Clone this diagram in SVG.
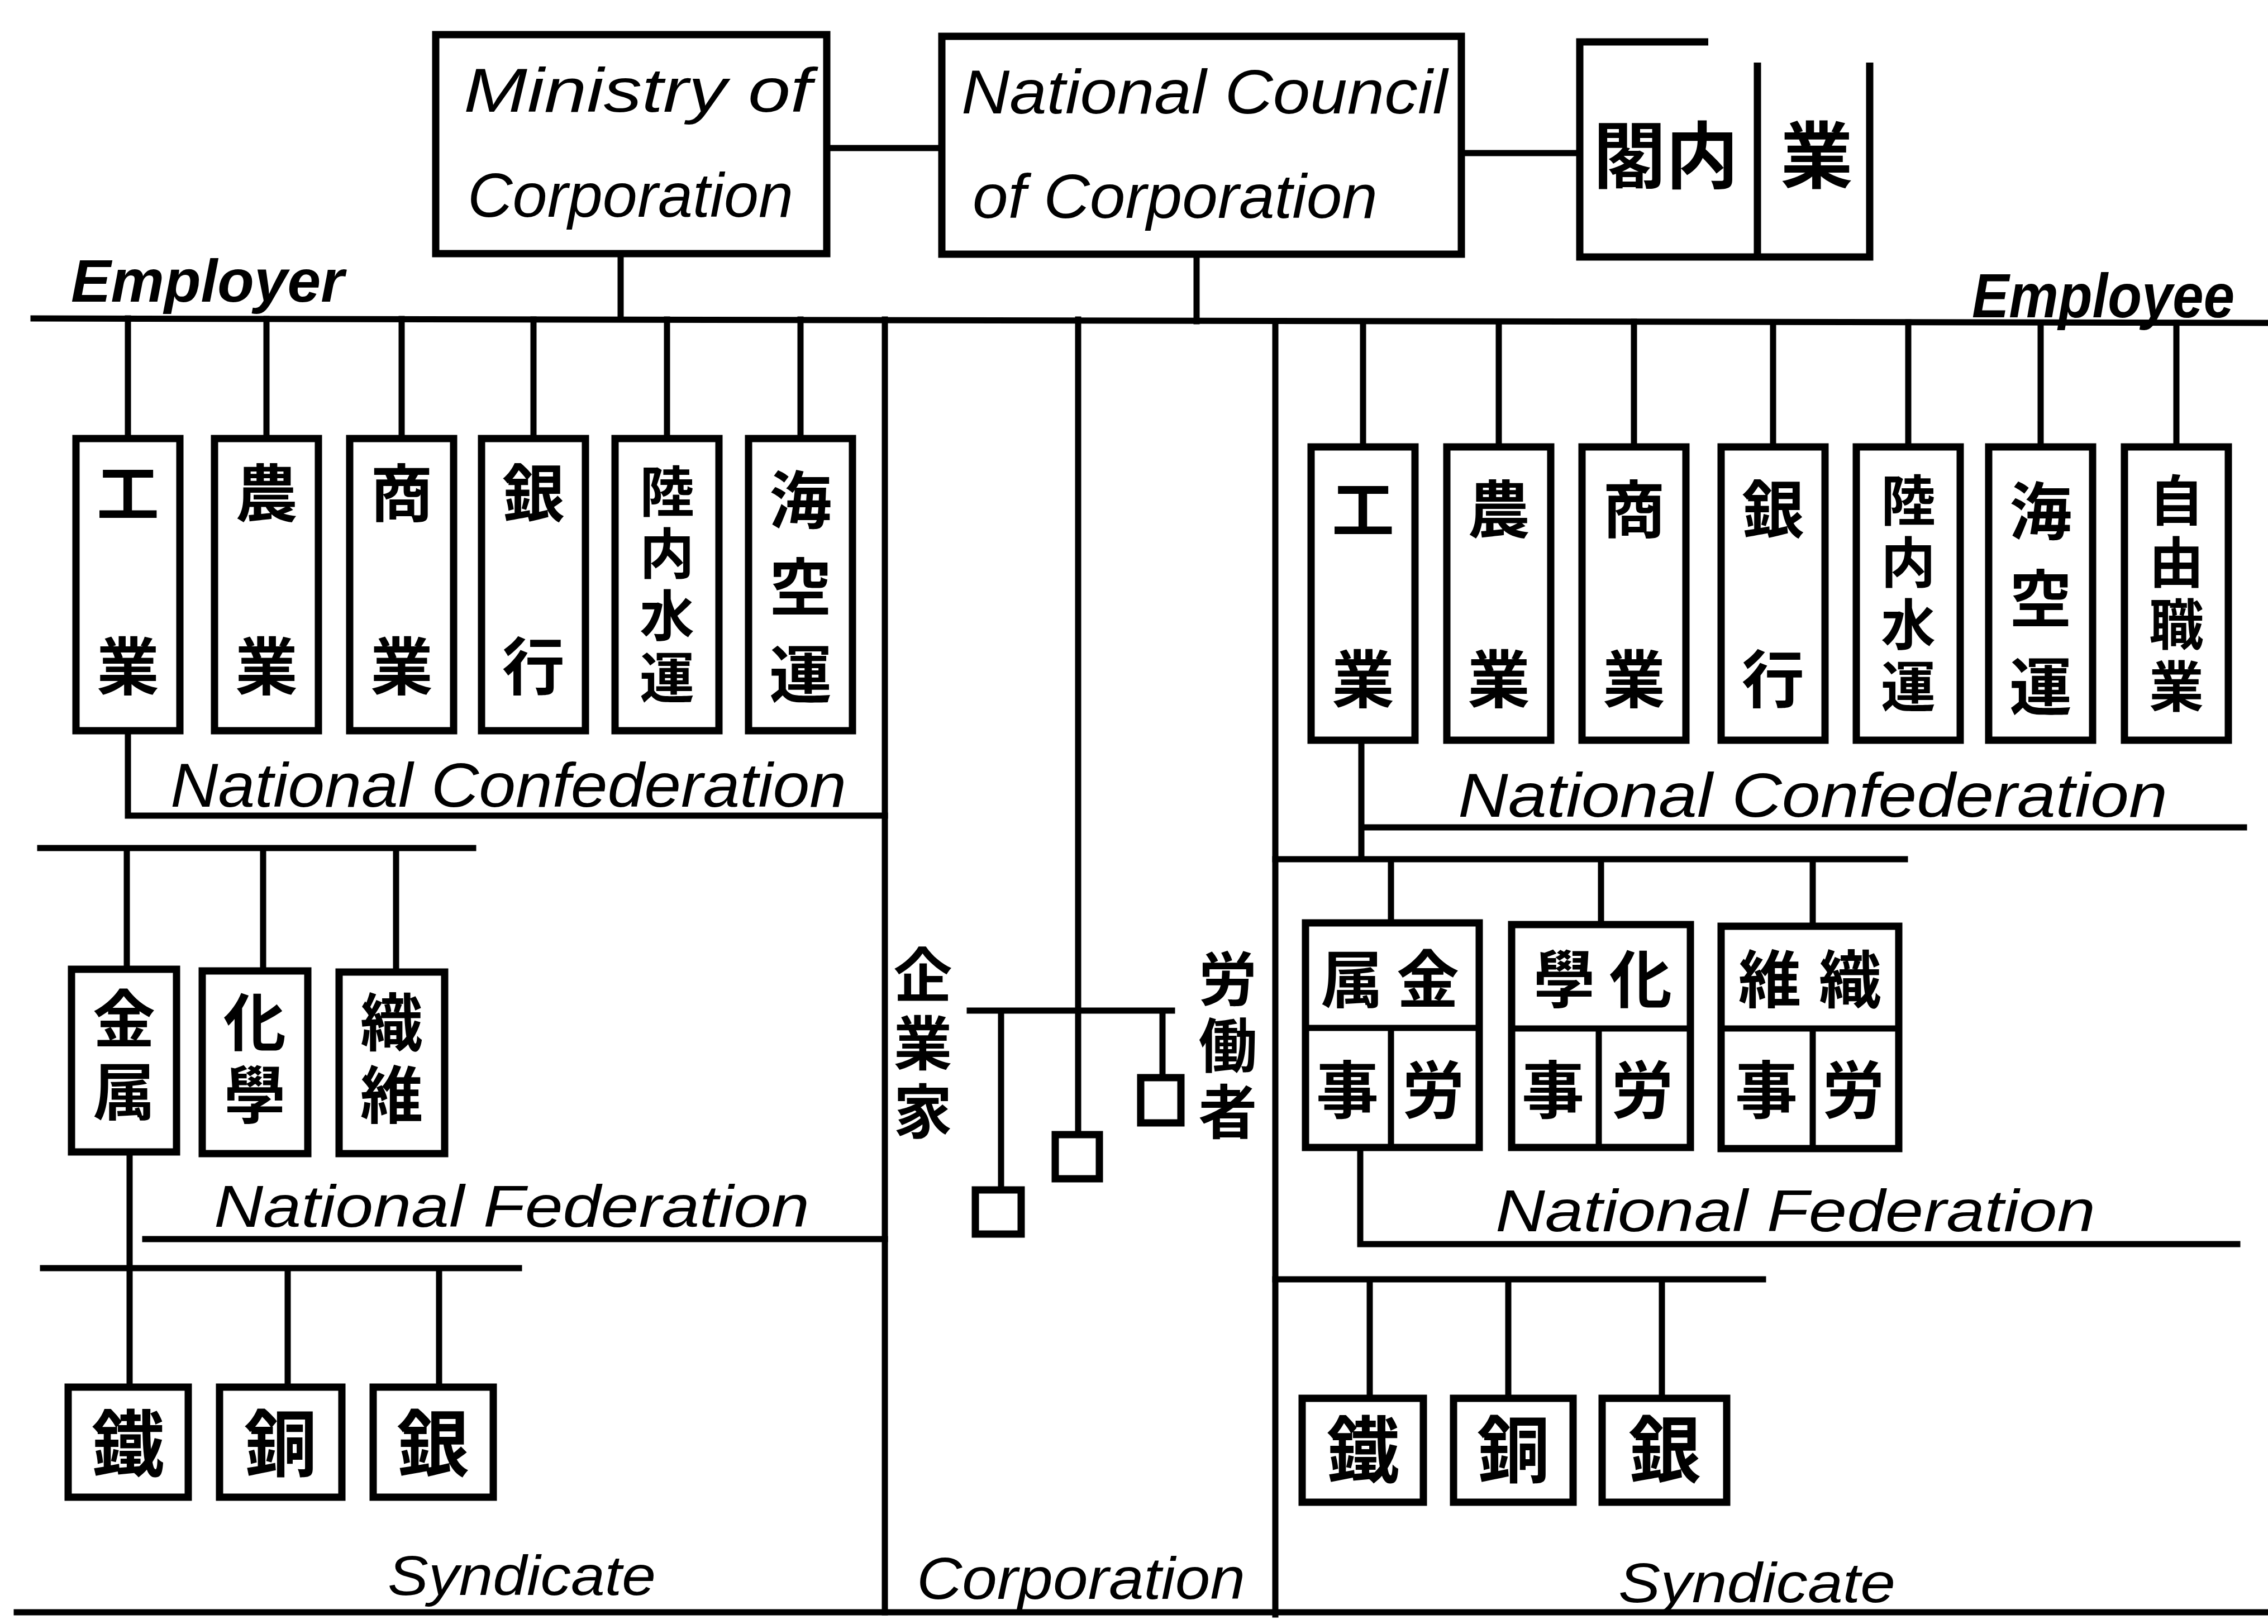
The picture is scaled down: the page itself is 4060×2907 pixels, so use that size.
<svg xmlns="http://www.w3.org/2000/svg" width="4060" height="2907" viewBox="0 0 4060 2907">
<style>
.bx{fill:none;stroke:#000;stroke-width:13}
.ln{fill:none;stroke:#000;stroke-width:11;stroke-linecap:square}
.en{font-family:"Liberation Sans",Arial,sans-serif;font-style:italic;fill:#000}
.cj{font-family:"Noto Sans CJK JP","Noto Sans CJK SC",sans-serif;font-weight:700;fill:#000;text-anchor:middle}
.vt{font-family:"Noto Sans CJK JP","Noto Sans CJK SC",sans-serif;font-weight:700;fill:#000;writing-mode:vertical-rl;text-anchor:start}
.c115{font-size:112px}
.c105{font-size:105px}
.c100{font-size:98px}
.c130{font-size:130px}
.s2L{letter-spacing:198px}
.s2R{letter-spacing:192px}
.s3L{letter-spacing:44px}
.s3R{letter-spacing:45px}
.s4{letter-spacing:13px}
.sF{letter-spacing:18px}
</style>
<rect width="4060" height="2907" fill="#fff"/>

<g id="connectors">
<path class="ln" d="M1480,265 H1686 M2616,274 H2828"/>
<path class="ln" d="M60,570 L4060,578"/>
<path class="ln" d="M1111,454 V570 M2142,455 V575"/>
<path class="ln" d="M229,570 V785 M477,571 V785 M719,571 V785 M955,572 V785 M1194,572 V785 M1433,572 V785"/>
<path class="ln" d="M2440,576 V800 M2683,576 V800 M2925,576 V800 M3174,577 V800 M3416,577 V800 M3653,578 V800 M3896,578 V800"/>
<path class="ln" d="M1584,572 V2886 M2283,576 V2890"/>
<path class="ln" d="M229,1308 V1460 H1584"/>
<path class="ln" d="M72,1518 H847 M227,1518 V1735 M471,1518 V1738 M709,1518 V1740"/>
<path class="ln" d="M232,2062 V2483"/>
<path class="ln" d="M260,2218 H1584"/>
<path class="ln" d="M77,2270 H929 M515,2270 V2483 M786,2270 V2483"/>
<path class="ln" d="M30,2886 H4060"/>
<path class="ln" d="M1930,572 V2031 M1736,1809 H2098 M1792,1809 V2130 M2081,1809 V1929"/>
<path class="ln" d="M2437,1325 V1537 M2437,1481 H4017"/>
<path class="ln" d="M2283,1538 H3410 M2490,1538 V1652 M2866,1538 V1652 M3245,1538 V1652"/>
<path class="ln" d="M2435,2054 V2227 H4005"/>
<path class="ln" d="M2283,2290 H3156 M2452,2290 V2503 M2700,2290 V2503 M2975,2290 V2503"/>
</g>

<g id="labels">
<text class="en" x="127" y="540" font-size="108" font-weight="700" textLength="489" lengthAdjust="spacingAndGlyphs">Employer</text>
<text class="en" x="3530" y="568" font-size="112" font-weight="700" textLength="470" lengthAdjust="spacingAndGlyphs">Employee</text>
<text class="en" x="305" y="1444" font-size="112" textLength="1210" lengthAdjust="spacingAndGlyphs">National Confederation</text>
<text class="en" x="2610" y="1462" font-size="112" textLength="1270" lengthAdjust="spacingAndGlyphs">National  Confederation</text>
<text class="en" x="383" y="2196" font-size="105" textLength="1066" lengthAdjust="spacingAndGlyphs">National Federation</text>
<text class="en" x="2677" y="2204" font-size="105" textLength="1074" lengthAdjust="spacingAndGlyphs">National  Federation</text>
<text class="en" x="694" y="2855" font-size="100" textLength="480" lengthAdjust="spacingAndGlyphs">Syndicate</text>
<text class="en" x="2897" y="2868" font-size="100" textLength="496" lengthAdjust="spacingAndGlyphs">Syndicate</text>
<text class="en" x="1641" y="2862" font-size="105" textLength="588" lengthAdjust="spacingAndGlyphs">Corporation</text>
</g>

<g id="ministry">
<rect class="bx" x="780" y="62" width="700" height="392"/>
<text class="en" x="830" y="200" font-size="112" textLength="623" lengthAdjust="spacingAndGlyphs">Ministry  of</text>
<text class="en" x="837" y="388" font-size="112" textLength="583" lengthAdjust="spacingAndGlyphs">Corporation</text>
</g>
<g id="council">
<rect class="bx" x="1686" y="65" width="930" height="390"/>
<text class="en" x="1721" y="203" font-size="112" textLength="870" lengthAdjust="spacingAndGlyphs">National  Council</text>
<text class="en" x="1741" y="390" font-size="112" textLength="725" lengthAdjust="spacingAndGlyphs">of Corporation</text>
</g>
<g id="cabinet">
<path class="bx" d="M3058,75 H2828 V460 H3347 V112 M3146,112 V460"/>
<text class="cj c130" x="2982" y="326">閣内</text>
<text class="cj c130" x="3252" y="326">業</text>
</g>

<g id="emp-industry"><rect class="bx" x="136" y="785" width="186" height="523"/><text class="vt c115 s2L" x="229" y="826">工業</text></g>
<g id="emp-agriculture"><rect class="bx" x="384" y="785" width="186" height="523"/><text class="vt c115 s2L" x="477" y="826">農業</text></g>
<g id="emp-commerce"><rect class="bx" x="626" y="785" width="186" height="523"/><text class="vt c115 s2L" x="719" y="826">商業</text></g>
<g id="emp-banking"><rect class="bx" x="862" y="785" width="186" height="523"/><text class="vt c115 s2L" x="955" y="826">銀行</text></g>
<g id="emp-inland"><rect class="bx" x="1101" y="785" width="186" height="523"/><text class="vt c100 s4" x="1194" y="830">陸内水運</text></g>
<g id="emp-seaair"><rect class="bx" x="1340" y="785" width="186" height="523"/><text class="vt c115 s3L" x="1433" y="838">海空運</text></g>

<g id="wrk-industry"><rect class="bx" x="2347" y="800" width="186" height="525"/><text class="vt c115 s2R" x="2440" y="855">工業</text></g>
<g id="wrk-agriculture"><rect class="bx" x="2590" y="800" width="186" height="525"/><text class="vt c115 s2R" x="2683" y="855">農業</text></g>
<g id="wrk-commerce"><rect class="bx" x="2832" y="800" width="186" height="525"/><text class="vt c115 s2R" x="2925" y="855">商業</text></g>
<g id="wrk-banking"><rect class="bx" x="3081" y="800" width="186" height="525"/><text class="vt c115 s2R" x="3174" y="855">銀行</text></g>
<g id="wrk-inland"><rect class="bx" x="3323" y="800" width="186" height="525"/><text class="vt c100 s4" x="3416" y="846">陸内水運</text></g>
<g id="wrk-seaair"><rect class="bx" x="3560" y="800" width="186" height="525"/><text class="vt c115 s3R" x="3653" y="858">海空運</text></g>
<g id="wrk-liberal"><rect class="bx" x="3803" y="800" width="186" height="525"/><text class="vt c100 s4" x="3896" y="846">自由職業</text></g>

<g id="emp-metal"><rect class="bx" x="128" y="1735" width="188" height="327"/><text class="vt c115 sF" x="222" y="1767">金属</text></g>
<g id="emp-chemical"><rect class="bx" x="362" y="1738" width="189" height="327"/><text class="vt c115 sF" x="456" y="1773">化學</text></g>
<g id="emp-textile"><rect class="bx" x="607" y="1740" width="189" height="325"/><text class="vt c115 sF" x="701" y="1773">織維</text></g>

<g id="emp-iron"><rect class="bx" x="122" y="2483" width="215" height="197"/><text class="cj c130" x="229" y="2632">鐵</text></g>
<g id="emp-copper"><rect class="bx" x="393" y="2483" width="219" height="197"/><text class="cj c130" x="502" y="2632">銅</text></g>
<g id="emp-silver"><rect class="bx" x="668" y="2483" width="215" height="197"/><text class="cj c130" x="775" y="2632">銀</text></g>

<g id="corp-employer"><text class="vt c105" x="1652" y="1692" letter-spacing="17">企業家</text></g>
<g id="corp-worker"><text class="vt c105" x="2198" y="1699" letter-spacing="14">労働者</text></g>
<g id="corp-box-left"><rect class="bx" x="1746" y="2130" width="82" height="79"/></g>
<g id="corp-box-mid"><rect class="bx" x="1889" y="2031" width="79" height="79"/></g>
<g id="corp-box-right"><rect class="bx" x="2042" y="1929" width="72" height="81"/></g>

<g id="wrk-metal"><rect class="bx" x="2337" y="1652" width="311" height="402"/><path class="ln" d="M2337,1840 H2648 M2490,1840 V2054"/><text class="cj c115" x="2420" y="1795">属</text><text class="cj c115" x="2556" y="1795">金</text><text class="cj c115" x="2412" y="1993">事</text><text class="cj c115" x="2566" y="1993">労</text></g>
<g id="wrk-chemical"><rect class="bx" x="2706" y="1655" width="320" height="399"/><path class="ln" d="M2706,1841 H3026 M2862,1841 V2054"/><text class="cj c115" x="2800" y="1795">學</text><text class="cj c115" x="2937" y="1795">化</text><text class="cj c115" x="2780" y="1993">事</text><text class="cj c115" x="2940" y="1993">労</text></g>
<g id="wrk-textile"><rect class="bx" x="3081" y="1658" width="318" height="398"/><path class="ln" d="M3081,1841 H3399 M3245,1841 V2056"/><text class="cj c115" x="3168" y="1795">維</text><text class="cj c115" x="3312" y="1795">織</text><text class="cj c115" x="3162" y="1993">事</text><text class="cj c115" x="3318" y="1993">労</text></g>

<g id="wrk-iron"><rect class="bx" x="2331" y="2503" width="217" height="186"/><text class="cj c130" x="2440" y="2643">鐵</text></g>
<g id="wrk-copper"><rect class="bx" x="2602" y="2503" width="214" height="186"/><text class="cj c130" x="2709" y="2643">銅</text></g>
<g id="wrk-silver"><rect class="bx" x="2868" y="2503" width="223" height="186"/><text class="cj c130" x="2980" y="2643">銀</text></g>
</svg>
